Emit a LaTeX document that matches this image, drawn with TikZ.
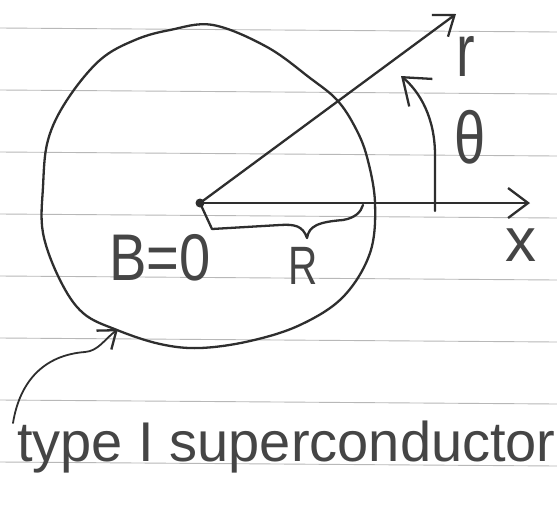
\documentclass[tikz,border=0pt]{standalone}
\usepackage{fontspec}
\setmainfont{Liberation Sans}
\usetikzlibrary{arrows.meta}
\definecolor{pencil}{HTML}{2E2E2E}
\definecolor{graphite}{HTML}{454545}
\definecolor{ruling}{HTML}{B8B8B8}
\begin{document}
\begin{tikzpicture}[x=1pt,y=-1pt,
  pen/.style={draw=pencil, line width=2.3pt, line cap=round, line join=round},
  rule/.style={draw=ruling, line width=0.9pt},
  barb/.style={-{Straight Barb[length=#1, width=1.5*#1, line width=2.3pt]}},
  lbl/.style={text=graphite, inner sep=0pt, anchor=center}]
\fill[white] (0,0) rectangle (557,523);
\useasboundingbox (0,0) rectangle (557,523);
% ruled lines of the paper
\foreach \y in {28,90,152,214,276,338,400,462}
  \draw[rule] (0,\y) -- (557,\y+4);
% coordinates
\coordinate (O) at (200,203);
\coordinate (xend) at (530,203);
\coordinate (rend) at (456,14);
\coordinate (tick) at (435,211);
\coordinate (ttip) at (401,76);
\coordinate (pstart) at (13,423);
\coordinate (ptip) at (118,329);
% superconductor outline
\draw[pen] plot[smooth cycle, tension=0.6] coordinates {
  (170,30) (213,25) (267,47) (310,78) (337,100) (355,127) (367,157)
  (375,203) (370,253) (343,297) (300,325) (250,341) (200,348) (160,344)
  (117,330) (83,313) (60,280) (43,233) (43,187) (48,140) (67,100)
  (100,60) (135,40)};
% axes
\draw[pen, barb=20pt] (O) -- (xend);
\draw[pen, barb=18pt] (O) -- (rend);
\fill[pencil] (O) circle (4.5pt);
% theta arc
\draw[pen, barb=24pt] (tick) -- (435,155) .. controls (435,118) and (420,92) .. (ttip);
% brace for R
\draw[pen] (O) -- (212,229) -- (280,225) .. controls (295,224) and (303,226) .. (307,238)
  .. controls (309,226) and (318,222) .. (343,220) .. controls (355,218) and (361,212) .. (363,205);
% pointer arrow
\draw[pen, line width=1.8pt, barb=16pt] (pstart) .. controls (20,380) and (45,355) .. (85,352)
  .. controls (98,351) and (104,340) .. (ptip);
% labels
\node[lbl] (rlab) at (466,56) {\scalebox{0.9}[1.2]{\fontsize{62}{62}\selectfont r}};
\node[lbl] (thlab) at (470,137) {\scalebox{0.8}[1.05]{\fontsize{70}{70}\selectfont θ}};
\node[lbl] (xlab) at (521,245) {\fontsize{62}{62}\selectfont x};
\node[lbl] (Rlab) at (303,266) {\scalebox{0.75}[1]{\fontsize{54}{54}\selectfont R}};
\node[lbl] (Blab) at (160,258) {\scalebox{0.85}[1]{\fontsize{66}{66}\selectfont B=0}};
\node[lbl, anchor=base west] (type) at (17,461) {\fontsize{56}{56}\selectfont type I superconductor};
\end{tikzpicture}
\end{document}
